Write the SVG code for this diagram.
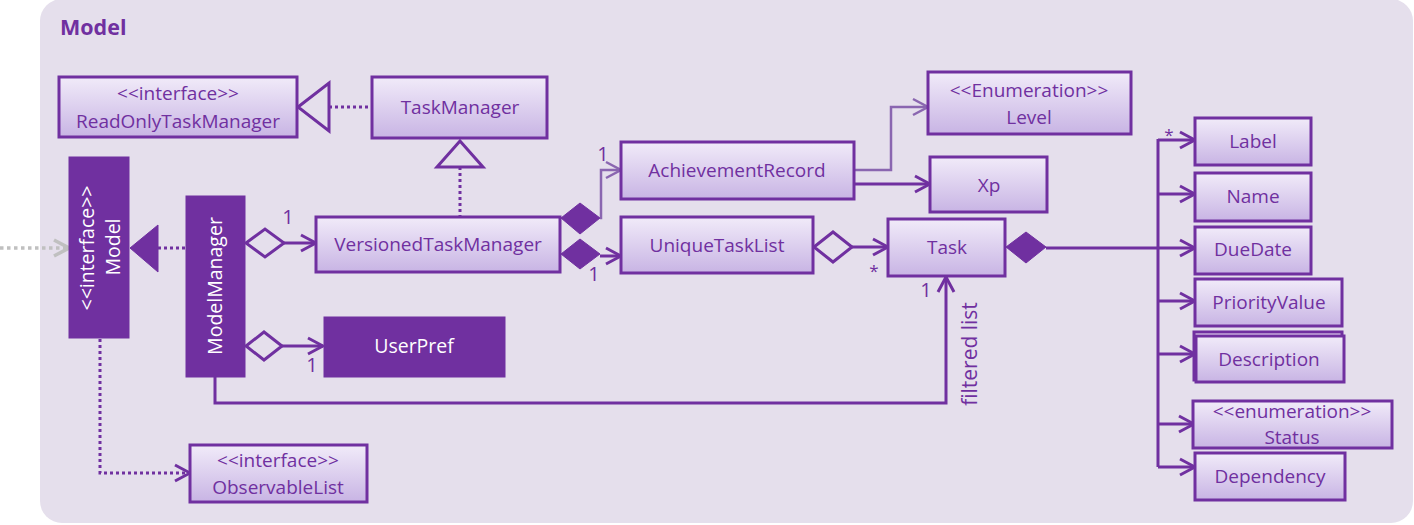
<svg xmlns="http://www.w3.org/2000/svg" width="1414" height="525" viewBox="0 0 1414 525">
<defs>
<linearGradient id="g" x1="0" y1="0" x2="0" y2="1">
<stop offset="0" stop-color="#F1EBF9"/>
<stop offset="1" stop-color="#C8B4E4"/>
</linearGradient>
<marker id="arr" viewBox="0 0 20 20" markerWidth="20" markerHeight="20" refX="17" refY="10" orient="auto" markerUnits="userSpaceOnUse">
<path d="M2,2 L17,10 L2,18" fill="none" stroke="#7030A0" stroke-width="3"/>
</marker>
<marker id="arrL" viewBox="0 0 20 20" markerWidth="20" markerHeight="20" refX="17" refY="10" orient="auto" markerUnits="userSpaceOnUse">
<path d="M2,2 L17,10 L2,18" fill="none" stroke="#8A66B0" stroke-width="2.5"/>
</marker>
<marker id="arrG" viewBox="0 0 20 20" markerWidth="20" markerHeight="20" refX="17" refY="10" orient="auto" markerUnits="userSpaceOnUse">
<path d="M2,2 L17,10 L2,18" fill="none" stroke="#C0C0C0" stroke-width="3.5"/>
</marker>
</defs>
<style>
.box{fill:url(#g);stroke:#7030A0;stroke-width:3}
.solid{fill:#7030A0;stroke:#7030A0;stroke-width:1}
.t{font-family:"Open Sans","Liberation Sans",sans-serif;font-size:19px;fill:#7030A0;text-anchor:middle}
.w{font-family:"Open Sans","Liberation Sans",sans-serif;font-size:19.5px;fill:#FFFFFF;text-anchor:middle}
.lbl{font-family:"Open Sans","Liberation Sans",sans-serif;font-size:20px;fill:#7030A0;text-anchor:middle}
.ln{fill:none;stroke:#7030A0;stroke-width:3}
.lnL{fill:none;stroke:#8A66B0;stroke-width:2.5}
.dot{fill:none;stroke:#7030A0;stroke-width:3;stroke-dasharray:3 3}
.hd{fill:none;stroke:#7030A0;stroke-width:3}
.fd{fill:#7030A0;stroke:#7030A0;stroke-width:1}
</style>
<rect x="0" y="0" width="1414" height="525" fill="#FFFFFF"/>
<rect id="panel" x="40" y="-1" width="1373" height="524" rx="22" ry="22" fill="#E5DFEC"/>
<text x="60" y="35" style="font-family:'Open Sans','Liberation Sans',sans-serif;font-size:21.5px;font-weight:bold;fill:#7030A0">Model</text>

<g id="connectors">
<path d="M0,248 L69,248" fill="none" stroke="#C0C0C0" stroke-width="3.5" stroke-dasharray="3.5 3.5" marker-end="url(#arrG)"/>
<path class="dot" d="M329,107 L372,107"/>
<polygon class="hd" points="298,107 329,83 329,131" fill="none"/>
<path class="dot" d="M460,167 L460,216"/>
<polygon class="hd" points="460,141 437,167 483,167" fill="none"/>
<path class="dot" d="M158,248 L186,248"/>
<polygon class="fd" points="130,248 158,225 158,272"/>
<polygon class="hd" points="246,243 265,229 284,243 265,257"/>
<path class="ln" d="M284,243 L316,243" marker-end="url(#arr)"/>
<polygon class="hd" points="246,346 264,332 282,346 264,360"/>
<path class="ln" d="M282,346 L323,346" marker-end="url(#arr)"/>
<path class="ln" d="M215,377 L215,403 L946,403 L946,277" marker-end="url(#arr)"/>
<path class="dot" d="M100,339 L100,473 L190,473" marker-end="url(#arr)"/>
<polygon class="fd" points="561,218 580,203 600,218 580,234"/>
<path class="lnL" d="M600,218 L601,218 L601,170 L621,170" marker-end="url(#arrL)"/>
<polygon class="fd" points="561,254 580,239 600,254 580,269"/>
<path class="ln" d="M600,256 L621,256" marker-end="url(#arr)"/>
<path class="lnL" d="M854,170 L891,170 L891,107 L928,107" marker-end="url(#arrL)"/>
<path class="ln" d="M854,184 L930,184" marker-end="url(#arr)"/>
<polygon class="hd" points="814,247 833,232 852,247 833,262"/>
<path class="ln" d="M852,247 L888,247" marker-end="url(#arr)"/>
<polygon class="fd" points="1006,247 1026,232 1046,247 1026,263"/>
<path class="ln" d="M1046,248 L1195,248" marker-end="url(#arr)"/>
<path class="ln" d="M1158,139 L1158,467"/>
<path class="ln" d="M1158,140 L1195,140" marker-end="url(#arr)"/>
<path class="ln" d="M1158,194 L1195,194" marker-end="url(#arr)"/>
<path class="ln" d="M1158,301 L1195,301" marker-end="url(#arr)"/>
<path class="ln" d="M1158,354 L1195,354" marker-end="url(#arr)"/>
<path class="ln" d="M1158,424 L1194,424" marker-end="url(#arr)"/>
<path class="ln" d="M1158,467 L1195,467" marker-end="url(#arr)"/>
<text class="lbl" x="288" y="224">1</text>
<text class="lbl" x="312" y="372">1</text>
<text class="lbl" x="603" y="161">1</text>
<text class="lbl" x="594" y="281">1</text>
<text class="lbl" x="874" y="277" style="font-size:17px">*</text>
<text class="lbl" x="926" y="297">1</text>
<text class="lbl" x="1169" y="141" style="font-size:17px">*</text>
<text class="lbl" transform="translate(977,354) rotate(-90)" style="font-size:21px">filtered list</text>
</g>

<g id="ReadOnlyTaskManager">
<rect class="box" x="59" y="77" width="238" height="60"/>
<text class="t" x="178" y="100">&lt;&lt;interface&gt;&gt;</text>
<text class="t" x="178" y="128">ReadOnlyTaskManager</text>
</g>
<g id="TaskManager">
<rect class="box" x="372" y="77" width="175" height="61"/>
<text class="t" x="460" y="114">TaskManager</text>
</g>
<g id="Model">
<rect class="solid" x="69" y="157" width="60" height="181"/>
<text class="w" transform="translate(94,248) rotate(-90)">&lt;&lt;interface&gt;&gt;</text>
<text class="w" transform="translate(120,247) rotate(-90)">Model</text>
</g>
<g id="ModelManager">
<rect class="solid" x="186" y="196" width="59" height="181"/>
<text class="w" transform="translate(222,286) rotate(-90)">ModelManager</text>
</g>
<g id="VersionedTaskManager">
<rect class="box" x="316" y="217" width="244" height="55"/>
<text class="t" x="438" y="251">VersionedTaskManager</text>
</g>
<g id="UserPref">
<rect class="solid" x="324" y="317" width="181" height="60"/>
<text class="w" x="414" y="353">UserPref</text>
</g>
<g id="AchievementRecord">
<rect class="box" x="621" y="142" width="233" height="57"/>
<text class="t" x="737" y="177">AchievementRecord</text>
</g>
<g id="Level">
<rect class="box" x="928" y="72" width="203" height="62"/>
<text class="t" x="1029" y="97">&lt;&lt;Enumeration&gt;&gt;</text>
<text class="t" x="1029" y="124">Level</text>
</g>
<g id="Xp">
<rect class="box" x="930" y="157" width="117" height="55"/>
<text class="t" x="989" y="192">Xp</text>
</g>
<g id="UniqueTaskList">
<rect class="box" x="621" y="217" width="192" height="56"/>
<text class="t" x="717" y="252">UniqueTaskList</text>
</g>
<g id="Task">
<rect class="box" x="888" y="219" width="117" height="57"/>
<text class="t" x="947" y="254">Task</text>
</g>
<g id="Label">
<rect class="box" x="1195" y="118" width="116" height="47"/>
<text class="t" x="1253" y="148">Label</text>
</g>
<g id="Name">
<rect class="box" x="1195" y="173" width="116" height="48"/>
<text class="t" x="1253" y="203">Name</text>
</g>
<g id="DueDate">
<rect class="box" x="1195" y="227" width="116" height="47"/>
<text class="t" x="1253" y="256">DueDate</text>
</g>
<g id="PriorityValue">
<rect class="box" x="1195" y="279" width="147" height="47"/>
<text class="t" x="1269" y="309">PriorityValue</text>
</g>
<g id="Description">
<rect class="box" x="1194" y="332" width="148" height="48"/>
<rect class="box" x="1196" y="336" width="148" height="46"/>
<text class="t" x="1269" y="366">Description</text>
</g>
<g id="Status">
<rect class="box" x="1193" y="401" width="199" height="47"/>
<text class="t" x="1292" y="418">&lt;&lt;enumeration&gt;&gt;</text>
<text class="t" x="1292" y="444">Status</text>
</g>
<g id="Dependency">
<rect class="box" x="1195" y="453" width="150" height="47"/>
<text class="t" x="1270" y="483">Dependency</text>
</g>
<g id="ObservableList">
<rect class="box" x="190" y="445" width="177" height="57"/>
<text class="t" x="278" y="467">&lt;&lt;interface&gt;&gt;</text>
<text class="t" x="278" y="494">ObservableList</text>
</g>
</svg>
